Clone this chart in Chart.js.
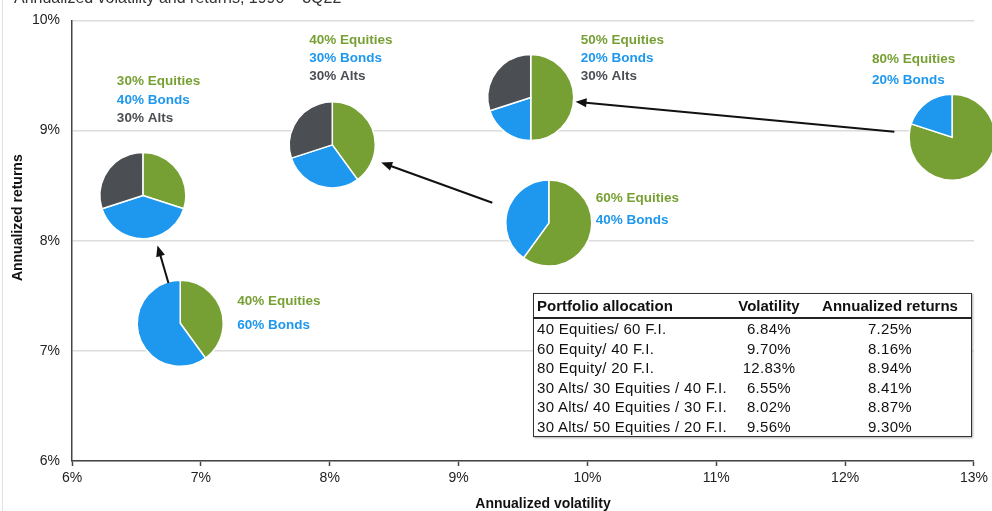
<!DOCTYPE html>
<html>
<head>
<meta charset="utf-8">
<script src="https://cdn.jsdelivr.net/npm/chart.js@4.4.0/dist/chart.umd.min.js"></script>
<style>
  body { margin: 0; background: #fff; }
  #wrap { position: relative; width: 992px; height: 511px; overflow: hidden; font-family: "Liberation Sans", Arial, sans-serif; }
  #ttl { position: absolute; left: 14px; top: -10px; font-size: 16px; line-height: 16px; color: #333; white-space: nowrap; }
  #edge { position: absolute; left: 2px; top: 0; width: 1px; height: 511px; background: #e2e2e2; }
  #tbl { position: absolute; left: 533px; top: 293px; width: 439px; height: 144px; border: 1.5px solid #333; box-sizing: border-box;
         box-shadow: 1px 1px 2px #aaa; border-collapse: collapse; font-size: 15px; letter-spacing: 0.3px; color: #111; background: #fff; }
  #tbl th { font-weight: bold; height: 22px; border-bottom: 2px solid #222; padding: 0; letter-spacing: 0; }
  #tbl td { height: 19px; padding: 0; }
  #tbl .c1 { text-align: left; padding-left: 3px; width: 192px; }
  #tbl .c2 { text-align: center; width: 80px; }
  #tbl .c3 { text-align: center; }
</style>
</head>
<body>
<div id="wrap">
  <canvas id="chart" width="992" height="511"></canvas>
  <div id="edge"></div>
  <div id="ttl">Annualized volatility and returns, 1990 – 3Q22</div>
  <table id="tbl"></table>
</div>
<script>
// 포트폴리오 데이터 (표 순서)
var allocations = ["40 Equities/ 60 F.I.", "60 Equity/ 40 F.I.", "80 Equity/ 20 F.I.",
                   "30 Alts/ 30 Equities / 40 F.I.", "30 Alts/ 40 Equities / 30 F.I.", "30 Alts/ 50 Equities / 20 F.I."];
var volatility = [6.84, 9.70, 12.83, 6.55, 8.02, 9.56];
var returns = [7.25, 8.16, 8.94, 8.41, 8.87, 9.30];
var equities = [40, 60, 80, 30, 40, 50];
var bonds = [60, 40, 20, 40, 30, 20];
var alts = [0, 0, 0, 30, 30, 30];
var arrows = [[0, 3], [1, 4], [2, 5]]; // [from, to]
var xTicks = [6, 7, 8, 9, 10, 11, 12, 13];
var yTicks = [6, 7, 8, 9, 10];

var GREEN = "#77a034", BLUE = "#1e98ee", GRAY = "#4b4e53";
var sliceColors = [GREEN, BLUE, GRAY];
var sliceNames = ["Equities", "Bonds", "Alts"];

// 표 만들기
var tbl = document.getElementById("tbl");
var html = '<tr><th class="c1">Portfolio allocation</th><th class="c2">Volatility</th><th class="c3">Annualized returns</th></tr>';
for (var i = 0; i < allocations.length; i++) {
  html += '<tr><td class="c1">' + allocations[i] + '</td><td class="c2">' + volatility[i].toFixed(2) + '%</td><td class="c3">' + returns[i].toFixed(2) + '%</td></tr>';
}
tbl.innerHTML = html;

var R = 43;
// 라벨 위치 (파이 중심 기준 dx, dy, 줄간격)
var labelPos = [[57, -22, 24], [47, -25, 22], [-80, -78, 21], [-26, -114, 18.5], [-23, -105, 18], [50, -57, 18]];
var arrowGap = [[42, 52], [60, 52], [58, 45]];

var piePlugin = {
  id: "pies",
  afterDatasetsDraw: function(chart) {
    var ctx = chart.ctx;
    var pts = chart.getDatasetMeta(0).data;
    ctx.save();
    // 파이
    pts.forEach(function(p, i) {
      var parts = [equities[i], bonds[i], alts[i]];
      var start = -Math.PI / 2;
      parts.forEach(function(v, k) {
        if (!v) return;
        var end = start + v / 100 * 2 * Math.PI;
        ctx.beginPath(); ctx.moveTo(p.x, p.y); ctx.arc(p.x, p.y, R, start, end); ctx.closePath();
        ctx.fillStyle = sliceColors[k]; ctx.fill();
        ctx.strokeStyle = "#fff"; ctx.lineWidth = 1.5; ctx.stroke();
        start = end;
      });
      // 라벨
      var lp = labelPos[i], line = 0;
      ctx.font = "bold 13.5px 'Liberation Sans', Arial, sans-serif";
      ctx.textAlign = "left"; ctx.textBaseline = "middle";
      parts.forEach(function(v, k) {
        if (!v) return;
        ctx.fillStyle = sliceColors[k];
        ctx.fillText(v + "% " + sliceNames[k], p.x + lp[0], p.y + lp[1] + line * lp[2]);
        line++;
      });
    });
    // 화살표
    arrows.forEach(function(a, k) {
      var p = pts[a[0]], q = pts[a[1]];
      var dx = q.x - p.x, dy = q.y - p.y, len = Math.sqrt(dx * dx + dy * dy);
      var ux = dx / len, uy = dy / len;
      var sx = p.x + ux * arrowGap[k][0], sy = p.y + uy * arrowGap[k][0];
      var ex = q.x - ux * arrowGap[k][1], ey = q.y - uy * arrowGap[k][1];
      ctx.strokeStyle = "#111"; ctx.fillStyle = "#111"; ctx.lineWidth = 2;
      ctx.beginPath(); ctx.moveTo(sx, sy); ctx.lineTo(ex - ux * 8, ey - uy * 8); ctx.stroke();
      ctx.beginPath();
      ctx.moveTo(ex, ey);
      ctx.lineTo(ex - ux * 11 - uy * 4.5, ey - uy * 11 + ux * 4.5);
      ctx.lineTo(ex - ux * 11 + uy * 4.5, ey - uy * 11 - ux * 4.5);
      ctx.closePath(); ctx.fill();
    });
    // 축 제목
    var ca = chart.chartArea;
    ctx.fillStyle = "#111";
    ctx.font = "bold 14px 'Liberation Sans', Arial, sans-serif";
    ctx.textAlign = "center"; ctx.textBaseline = "middle";
    ctx.fillText("Annualized volatility", (ca.left + ca.right) / 2 + 20, 504);
    ctx.translate(18, (ca.top + ca.bottom) / 2 - 23);
    ctx.rotate(-Math.PI / 2);
    ctx.fillText("Annualized returns", 0, 0);
    ctx.restore();
  }
};

var chart = new Chart(document.getElementById("chart"), {
  type: "scatter",
  data: {
    datasets: [{
      data: volatility.map(function(v, i) { return { x: v, y: returns[i] }; }),
      pointRadius: 0
    }]
  },
  options: {
    responsive: false,
    animation: false,
    devicePixelRatio: 1,
    layout: { padding: { top: 19, right: 14, left: 0, bottom: 0 } },
    plugins: { legend: { display: false }, tooltip: { enabled: false } },
    scales: {
      x: {
        type: "linear", min: 6, max: 13,
        afterBuildTicks: function(s) { s.ticks = xTicks.map(function(v) { return { value: v }; }); },
        afterFit: function(s) { s.height = 50; },
        ticks: { callback: function(v) { return v + "%"; }, color: "#222", padding: 4, maxRotation: 0,
                 font: { family: "'Liberation Sans', Arial, sans-serif", size: 14 } },
        grid: { drawOnChartArea: false, drawTicks: true, tickLength: 5, tickColor: "#444", tickWidth: 1.5 },
        border: { color: "#444", width: 1.5 }
      },
      y: {
        type: "linear", min: 6, max: 10,
        afterBuildTicks: function(s) { s.ticks = yTicks.map(function(v) { return { value: v }; }); },
        afterFit: function(s) { s.width = 72; },
        ticks: { callback: function(v) { return v + "%"; }, color: "#222", padding: 12,
                 font: { family: "'Liberation Sans', Arial, sans-serif", size: 14 } },
        grid: { color: "#dcdcdc", lineWidth: 1.5, drawTicks: false },
        border: { color: "#444", width: 1.5 }
      }
    }
  },
  plugins: [piePlugin]
});
</script>
</body>
</html>
